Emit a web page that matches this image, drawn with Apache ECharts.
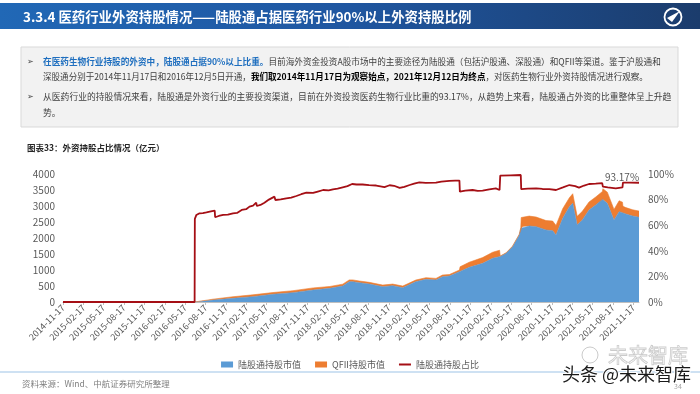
<!DOCTYPE html>
<html>
<head>
<meta charset="utf-8">
<script src="https://cdn.jsdelivr.net/npm/echarts@6/dist/echarts.min.js"></script>
<style>html,body{margin:0;padding:0;background:#fff}#c{width:700px;height:394px}</style>
</head>
<body>
<div id="c"></div>
<script>
// ---------- data ----------
const tickDates = ['2014-11-17','2015-02-17','2015-05-17','2015-08-17','2015-11-17','2016-02-17','2016-05-17','2016-08-17','2016-11-17','2017-02-17','2017-05-17','2017-08-17','2017-11-17','2018-02-17','2018-05-17','2018-08-17','2018-11-17','2019-02-17','2019-05-17','2019-08-17','2019-11-17','2020-02-17','2020-05-17','2020-08-17','2020-11-17','2021-02-17','2021-05-17','2021-08-17','2021-11-17'];
const startDate = '2014-11-17';
const endDate = '2021-12-12';

const areaDates = ['2014-11-17','2016-06-29','2016-06-30','2016-09-20','2016-12-18','2017-03-17','2017-06-15','2017-09-13','2017-12-12','2018-02-25','2018-04-24','2018-05-23','2018-06-08','2018-07-07','2018-08-21','2018-10-20','2018-12-04','2019-01-18','2019-03-17','2019-05-02','2019-06-16','2019-07-15','2019-08-15','2019-09-29','2019-10-02','2019-11-12','2020-01-11','2020-02-25','2020-03-27','2020-03-30','2020-04-25','2020-05-24','2020-06-23','2020-06-30','2020-07-02','2020-07-08','2020-08-07','2020-09-07','2020-10-21','2020-11-20','2020-12-05','2021-01-04','2021-02-03','2021-02-18','2021-03-10','2021-04-02','2021-05-02','2021-06-01','2021-07-01','2021-07-03','2021-07-23','2021-08-22','2021-09-14','2021-09-29','2021-10-01','2021-10-14','2021-11-13','2021-12-12'];
const connectValues = [0,0,10,62,115,167,240,292,375,427,500,635,635,604,562,479,510,448,635,708,688,792,812,948,950,1083,1208,1365,1417,1420,1521,1729,2094,2300,2330,2354,2375,2354,2250,2229,2094,2615,2979,3083,2406,2563,2875,3031,3208,3200,3083,2563,2823,2790,2785,2750,2688,2646];
const qfiiValues = [0,0,5,27,50,57,55,62,65,58,58,55,55,52,52,50,50,50,50,52,50,50,46,52,152,160,180,190,200,18,15,17,18,20,310,315,310,300,295,300,300,300,280,300,270,270,250,250,245,340,350,330,340,330,205,200,195,194];

const ratioDates = ['2014-11-17','2016-06-29','2016-06-30','2016-07-07','2016-07-21','2016-08-05','2016-08-21','2016-09-10','2016-09-27','2016-09-29','2016-10-15','2016-11-04','2016-11-25','2016-12-18','2017-01-05','2017-01-26','2017-02-15','2017-03-02','2017-03-18','2017-04-01','2017-04-04','2017-04-20','2017-05-08','2017-05-28','2017-06-22','2017-06-26','2017-07-20','2017-08-14','2017-09-05','2017-09-28','2017-10-20','2017-11-12','2017-12-12','2018-01-02','2018-01-26','2018-02-20','2018-03-11','2018-04-01','2018-04-24','2018-05-15','2018-06-05','2018-06-25','2018-07-22','2018-08-20','2018-09-21','2018-10-10','2018-10-28','2018-11-20','2018-12-10','2019-01-04','2019-01-25','2019-02-18','2019-03-10','2019-04-02','2019-05-01','2019-06-16','2019-07-10','2019-08-15','2019-09-10','2019-09-29','2019-10-01','2019-10-25','2019-11-27','2019-12-20','2020-01-11','2020-02-10','2020-03-10','2020-03-27','2020-03-30','2020-05-15','2020-06-30','2020-07-02','2020-08-01','2020-09-07','2020-10-05','2020-11-05','2020-12-05','2021-01-05','2021-02-03','2021-03-01','2021-03-18','2021-04-10','2021-05-02','2021-06-01','2021-06-30','2021-07-03','2021-07-25','2021-08-30','2021-09-29','2021-10-01','2021-11-01','2021-12-12'];
const ratioValues = [0,0,65,68,69.3,69.5,70,70.8,71.4,66.2,67.2,68,68.3,69.3,69.6,71.9,72.5,74.5,75.3,77.6,75,75.8,77.6,80,82.3,79.7,80.2,81,81.5,82.8,84.2,85.4,85.2,86.3,87.5,87.2,88,88.5,89.6,90.5,92.2,91.8,91.8,91.3,91.0,90.4,89.8,91.2,90.8,89.1,90.0,91.4,92.5,93.4,93.0,93.2,94.0,94.6,94.8,94.8,86.2,87.0,87.5,86.8,87.0,88.0,88.8,87.5,98.7,99.0,99.2,88.2,88.5,88.8,88.3,88.2,87.5,89.5,91.4,90.5,89.3,91.0,92.2,92.5,92.9,90.2,89.6,88.8,89.6,93.2,93.3,93.17];
const lastRatioLabel = '93.17%';

const seriesNames = ['陆股通持股市值','QFII持股市值','陆股通持股占比'];
const leftTicks = {min: 0, max: 4000, interval: 500};
const rightTicks = {min: 0, max: 100, interval: 20};

// ---------- helpers ----------
function ts(s){const p=s.split('-').map(Number);return new Date(p[0],p[1]-1,p[2]).getTime();}
function fmt(v){const d=new Date(v);const p=n=>String(n).padStart(2,'0');return d.getFullYear()+'-'+p(d.getMonth()+1)+'-'+p(d.getDate());}
function zip(dates, vals){return dates.map((d,i)=>[ts(d), vals[i]]);}

const FF = '"Noto Sans CJK SC","Noto Sans",sans-serif';
const chart = echarts.init(document.getElementById('c'), null, {renderer:'canvas'});

const tickTs = tickDates.map(ts);

const option = {
  animation: false,
  backgroundColor: '#fff',
  textStyle: {fontFamily: FF},
  grid: {left: 63, right: 61, top: 174, bottom: 92, containLabel: false},
  legend: {
    top: 355, left: 'center', itemWidth: 12, itemHeight: 6, itemGap: 14,
    textStyle: {fontSize: 9, color: '#595959', fontFamily: FF},
    data: [
      {name: seriesNames[0], icon: 'rect'},
      {name: seriesNames[1], icon: 'rect'},
      {name: seriesNames[2], icon: 'path://M0,0H12V2H0Z'}
    ]
  },
  xAxis: [
    { // time axis carrying the series (hidden decorations)
      type: 'time', min: ts(startDate), max: ts(endDate),
      axisLine: {show: false}, axisTick: {show: false}, axisLabel: {show: false}, splitLine: {show: false}
    },
    { // visible axis with quarterly ticks and labels
      type: 'value', min: ts(startDate), max: ts(endDate), position: 'bottom',
      axisLine: {show: true, lineStyle: {color: '#bfbfbf', width: 1}},
      axisTick: {show: true, customValues: tickTs, length: 3, lineStyle: {color: '#bfbfbf'}},
      axisLabel: {customValues: tickTs, formatter: v => fmt(v), rotate: 45, fontSize: 9, color: '#595959', margin: 4, fontFamily: FF},
      splitLine: {show: false}
    }
  ],
  yAxis: [
    {type: 'value', min: leftTicks.min, max: leftTicks.max, interval: leftTicks.interval,
     axisLine: {show: false}, axisTick: {show: false}, splitLine: {show: false},
     axisLabel: {fontSize: 10, color: '#595959', margin: 8, fontFamily: FF, formatter: v => String(v)}},
    {type: 'value', min: rightTicks.min, max: rightTicks.max, interval: rightTicks.interval, position: 'right',
     axisLine: {show: false}, axisTick: {show: false}, splitLine: {show: false},
     axisLabel: {fontSize: 10, color: '#595959', margin: 9, formatter: '{value}%', fontFamily: FF}}
  ],
  series: [
    {name: seriesNames[0], type: 'line', stack: 'total', xAxisIndex: 0, yAxisIndex: 0, symbol: 'none',
     color: '#5b9bd5', lineStyle: {width: 0.6, color: '#5b9bd5'}, areaStyle: {color: '#5b9bd5', opacity: 1},
     data: zip(areaDates, connectValues), z: 2},
    {name: seriesNames[1], type: 'line', stack: 'total', xAxisIndex: 0, yAxisIndex: 0, symbol: 'none',
     color: '#ed7d31', lineStyle: {width: 0.6, color: '#ed7d31'}, areaStyle: {color: '#ed7d31', opacity: 1},
     data: zip(areaDates, qfiiValues), z: 2},
    {name: seriesNames[2], type: 'line', xAxisIndex: 0, yAxisIndex: 1, symbol: 'none',
     color: '#a50f15', lineStyle: {width: 1.8, color: '#a50f15'},
     data: zip(ratioDates, ratioValues), z: 5,
     markPoint: {
       symbol: 'circle', symbolSize: 1, itemStyle: {color: 'rgba(0,0,0,0)'},
       label: {show: true, position: 'top', distance: 0, offset: [-17, 0], formatter: lastRatioLabel, color: '#595959', fontSize: 10, fontFamily: FF},
       data: [{coord: [ts(endDate), ratioValues[ratioValues.length-1]]}]
     }}
  ],
  graphic: [
    {type: 'rect', shape: {x: 0, y: 3, width: 700, height: 26}, z: 0,
     style: {fill: new echarts.graphic.LinearGradient(0,0,1,0,[{offset:0,color:'#2168b6'},{offset:0.5,color:'#1f56a0'},{offset:1,color:'#1b3c6c'}])}},
    {type: 'text', x: 23, y: 16.5, z: 1, style: {text: '3.3.4 医药行业外资持股情况——陆股通占据医药行业90%以上外资持股比例', fill: '#ffffff', fontSize: 13.4, fontWeight: 'bold', fontFamily: FF, verticalAlign: 'middle'}},
    {type: 'circle', shape: {cx: 673, cy: 17, r: 8.5}, z: 1, style: {fill: 'none', stroke: '#ffffff', lineWidth: 1.8}},
    {type: 'polygon', shape: {points: [[667,18],[680,11],[672,22]]}, z: 1, style: {fill: '#ffffff'}},
    {type: 'rect', shape: {x: 21, y: 47, width: 657, height: 80}, z: 0, style: {fill: '#f2f2f2', stroke: '#d9d9d9', lineWidth: 1}},
    {type: 'text', x: 27, y: 62, z: 1, style: {text: '➢', fill: '#404040', fontSize: 8, verticalAlign: 'middle', fontFamily: '"DejaVu Sans"'}},
    {type: 'text', x: 27, y: 97, z: 1, style: {text: '➢', fill: '#404040', fontSize: 8, verticalAlign: 'middle', fontFamily: '"DejaVu Sans"'}},
    {type: 'text', x: 43, y: 62, z: 1, style: {
      text: '{b|在医药生物行业持股的外资中，陆股通占据90%以上比重。}{n|目前海外资金投资A股市场中的主要途径为陆股通（包括沪股通、深股通）和QFII等渠道。鉴于沪股通和}',
      verticalAlign: 'middle',
      rich: {b: {fill: '#1f6fbf', fontWeight: 'bold', fontSize: 8.65, fontFamily: FF}, n: {fill: '#404040', fontSize: 8.65, fontFamily: FF}}}},
    {type: 'text', x: 43, y: 77, z: 1, style: {
      text: '{n|深股通分别于2014年11月17日和2016年12月5日开通，}{k|我们取2014年11月17日为观察始点，2021年12月12日为终点}{n|，对医药生物行业外资持股情况进行观察。}',
      verticalAlign: 'middle',
      rich: {k: {fill: '#000000', fontWeight: 'bold', fontSize: 8.55, fontFamily: FF}, n: {fill: '#404040', fontSize: 8.55, fontFamily: FF}}}},
    {type: 'text', x: 43, y: 97, z: 1, style: {
      text: '从医药行业的持股情况来看，陆股通是外资行业的主要投资渠道，目前在外资投资医药生物行业比重的93.17%，从趋势上来看，陆股通占外资的比重整体呈上升趋',
      verticalAlign: 'middle', fill: '#404040', fontSize: 8.8, fontFamily: FF}},
    {type: 'text', x: 43, y: 113, z: 1, style: {text: '势。', verticalAlign: 'middle', fill: '#404040', fontSize: 8.8, fontFamily: FF}},
    {type: 'text', x: 27, y: 148, z: 1, style: {text: '图表33：外资持股占比情况（亿元）', verticalAlign: 'middle', fill: '#262626', fontSize: 8.5, fontWeight: 'bold', fontFamily: FF}},
    {type: 'line', shape: {x1: 0, y1: 372, x2: 700, y2: 372}, z: 1, style: {stroke: '#9dc3e6', lineWidth: 1}},
    {type: 'text', x: 22, y: 384, z: 1, style: {text: '资料来源：Wind、中航证券研究所整理', verticalAlign: 'middle', fill: '#7f7f7f', fontSize: 8.5, fontFamily: FF}},
    {type: 'text', x: 674, y: 386, z: 1, style: {text: '34', verticalAlign: 'middle', fill: '#a6a6a6', fontSize: 7, fontFamily: FF}},
    {type: 'text', x: 608, y: 355, z: 1, style: {text: '未来智库', verticalAlign: 'middle', fill: 'rgba(255,255,255,0)', stroke: 'rgba(160,160,160,0.55)', lineWidth: 0.8, fontSize: 20, fontFamily: FF}},
    {type: 'circle', shape: {cx: 590, cy: 355, r: 8}, z: 1, style: {fill: 'none', stroke: 'rgba(160,160,160,0.55)', lineWidth: 1}},
    {type: 'text', x: 562, y: 374, z: 10, style: {text: '头条 @未来智库', verticalAlign: 'middle', fill: '#1a1a1a', fontSize: 18, fontFamily: FF, stroke: '#ffffff', lineWidth: 2}}
  ]
};
chart.setOption(option);
</script>
</body>
</html>
